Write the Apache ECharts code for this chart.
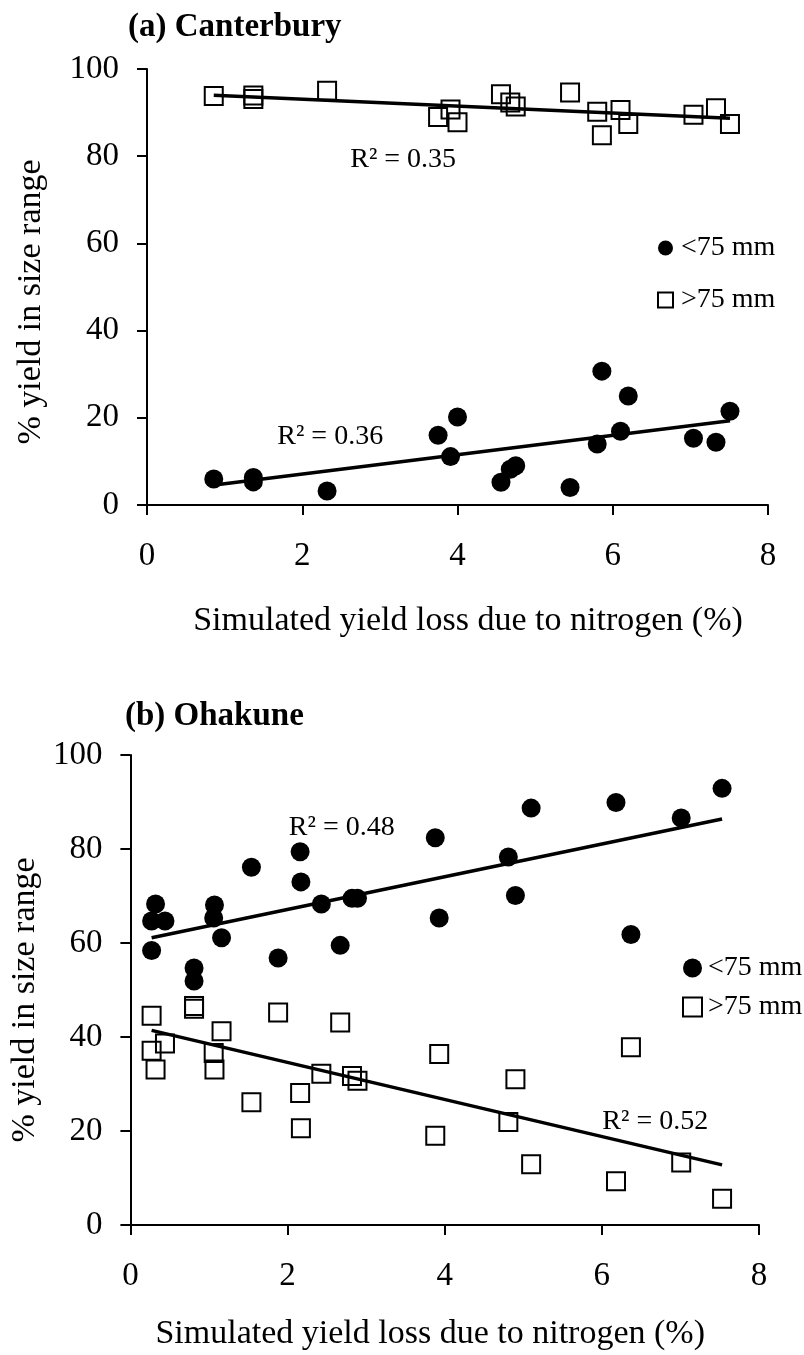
<!DOCTYPE html>
<html><head><meta charset="utf-8">
<script src="https://cdn.jsdelivr.net/npm/echarts@6/dist/echarts.min.js"></script>
<style>html,body{margin:0;padding:0;background:#fff}#c{width:804px;height:1355px}</style>
</head><body><div id="c"></div><script>
const FONT = 'Liberation Serif';

// (a) Canterbury
const canLoss  = [0.86, 1.37, 1.37, 2.32, 3.75, 3.91, 4.00, 4.56, 4.68, 4.75, 5.45, 5.80, 5.86, 6.10, 6.20, 7.04, 7.33, 7.51];
const canSmall = [5.95, 6.3, 5.3, 3.2, 16.0, 11.1, 20.2, 5.2, 8.2, 9.0, 4.0, 14.0, 30.7, 16.9, 25.0, 15.3, 14.4, 21.5];
const canLarge = [93.8, 93.9, 93.1, 95.0, 89.0, 90.7, 87.8, 94.2, 92.3, 91.4, 94.6, 90.2, 84.8, 90.6, 87.4, 89.5, 91.0, 87.4];
const canSmallFit = [[0.87, 4.6], [7.51, 19.3]];
const canLargeFit = [[0.86, 94.0], [7.51, 88.7]];
const canSmallR2 = ['R² = 0.36', 2.36, 15.6];
const canLargeR2 = ['R² = 0.35', 3.30, 79.1];

// (b) Ohakune
const ohaLoss  = [0.27, 0.27, 0.32, 0.44, 0.81, 0.81, 1.06, 1.07, 1.16, 1.54, 1.88, 2.16, 2.17, 2.43, 2.67, 2.82, 2.89, 3.88, 3.93, 4.81, 4.90, 5.10, 6.18, 6.37, 7.01, 7.53];
const ohaSmall = [58.4, 64.7, 68.3, 64.7, 54.7, 51.9, 65.3, 68.1, 61.1, 76.1, 56.8, 79.4, 73.0, 68.3, 59.5, 69.5, 69.5, 82.4, 65.3, 78.3, 70.1, 88.7, 89.9, 61.8, 86.6, 92.9];
const ohaLarge = [44.5, 37.1, 33.1, 38.6, 46.6, 46.0, 36.6, 33.1, 41.2, 26.1, 45.2, 28.1, 20.6, 32.2, 43.1, 31.7, 30.7, 19.0, 36.4, 21.9, 31.0, 12.9, 9.3, 37.8, 13.3, 5.6];
const ohaSmallFit = [[0.27, 61.1], [7.53, 86.4]];
const ohaLargeFit = [[0.27, 41.4], [7.53, 12.8]];
const ohaSmallR2 = ['R² = 0.48', 2.69, 84.5];
const ohaLargeR2 = ['R² = 0.52', 6.68, 21.9];

const titles = ['(a) Canterbury', '(b) Ohakune'];
const xName = 'Simulated yield loss due to nitrogen (%)';
const yName = '% yield in size range';
const seriesNames = ['<75 mm', '>75 mm'];

function pairs(xs, ys) { return xs.map((x, i) => [x, ys[i]]); }

function xAxis(g, gap, pad) {
  return {
    type: 'value', gridIndex: g, min: 0, max: 8, interval: 2,
    axisLine: { show: true, onZero: false, lineStyle: { color: '#000', width: 2 } },
    axisTick: { show: true, length: 10, lineStyle: { color: '#000', width: 2 } },
    axisLabel: { fontSize: 33, fontFamily: FONT, color: '#000', margin: 35, lineHeight: 33 },
    splitLine: { show: false },
    name: xName, nameLocation: 'middle', nameGap: gap,
    nameTextStyle: { fontSize: 34, fontFamily: FONT, color: '#000', padding: pad, lineHeight: 34 }
  };
}
function yAxis(g, gap, pad) {
  return {
    type: 'value', gridIndex: g, min: 0, max: 100, interval: 20,
    axisLine: { show: true, onZero: false, lineStyle: { color: '#000', width: 2 } },
    axisTick: { show: true, length: 10, lineStyle: { color: '#000', width: 2 } },
    axisLabel: { fontSize: 33, fontFamily: FONT, color: '#000', margin: 28 },
    splitLine: { show: false },
    name: yName, nameLocation: 'middle', nameGap: gap,
    nameTextStyle: { fontSize: 34, fontFamily: FONT, color: '#000', padding: pad, lineHeight: 34 }
  };
}
function dots(g, xs, ys, size) {
  return { type: 'scatter', name: seriesNames[0], xAxisIndex: g, yAxisIndex: g,
    data: pairs(xs, ys), symbol: 'circle', symbolSize: size,
    itemStyle: { color: '#000', opacity: 1 }, z: 3 };
}
function boxes(g, xs, ys, size) {
  return { type: 'scatter', name: seriesNames[1], xAxisIndex: g, yAxisIndex: g,
    data: pairs(xs, ys), symbol: 'rect', symbolSize: size,
    itemStyle: { color: 'rgba(255,255,255,0)', borderColor: '#000', borderWidth: 2, opacity: 1 }, z: 2 };
}
function fit(g, pts) {
  return { type: 'line', name: 'fit', xAxisIndex: g, yAxisIndex: g, data: pts,
    symbol: 'none', silent: true, lineStyle: { color: '#000', width: 3.5, opacity: 1 }, z: 4 };
}
function r2(g, lab) {
  return { type: 'scatter', name: 'r2', xAxisIndex: g, yAxisIndex: g, silent: true,
    data: [[lab[1], lab[2]]], symbolSize: 1, itemStyle: { color: 'rgba(0,0,0,0)', opacity: 1 },
    label: { show: true, position: 'inside', formatter: lab[0], fontSize: 28, fontFamily: FONT, color: '#000', opacity: 1 }, z: 5 };
}

const option = {
  backgroundColor: '#fff',
  animation: false,
  title: [
    { text: titles[0], left: 128, top: 11, padding: 0,
      textStyle: { fontSize: 33, fontWeight: 'bold', fontFamily: FONT, color: '#000' } },
    { text: titles[1], left: 125, top: 700, padding: 0,
      textStyle: { fontSize: 33, fontWeight: 'bold', fontFamily: FONT, color: '#000' } }
  ],
  legend: [
    { data: seriesNames, orient: 'vertical', left: 657, top: 234, padding: 0, itemGap: 24,
      itemWidth: 15, itemHeight: 15, selectedMode: false,
      textStyle: { fontSize: 28, fontFamily: FONT, color: '#000', padding: [0, 0, 0, 3] } },
    { data: seriesNames, orient: 'vertical', left: 682, top: 954, padding: 0, itemGap: 11,
      itemWidth: 19, itemHeight: 19, selectedMode: false,
      textStyle: { fontSize: 28, fontFamily: FONT, color: '#000', padding: [0, 0, 0, 1] } }
  ],
  grid: [
    { left: 147, right: 36, top: 69, height: 436 },
    { left: 128, right: 45, top: 755, height: 470 }
  ],
  xAxis: [xAxis(0, 99, [0, 0, 0, 21]), xAxis(1, 92, [0, 29, 0, 0])],
  yAxis: [yAxis(0, 99, [0, 30, 0, 0]), yAxis(1, 81, [0, 20, 0, 0])],
  series: [
    dots(0, canLoss, canSmall, 19),
    boxes(0, canLoss, canLarge, 18),
    fit(0, canSmallFit), fit(0, canLargeFit),
    r2(0, canSmallR2), r2(0, canLargeR2),
    dots(1, ohaLoss, ohaSmall, 19),
    boxes(1, ohaLoss, ohaLarge, 18),
    fit(1, ohaSmallFit), fit(1, ohaLargeFit),
    r2(1, ohaSmallR2), r2(1, ohaLargeR2)
  ]
};
const chart = echarts.init(document.getElementById('c'), null, { renderer: 'canvas' });
chart.setOption(option);
</script></body></html>
